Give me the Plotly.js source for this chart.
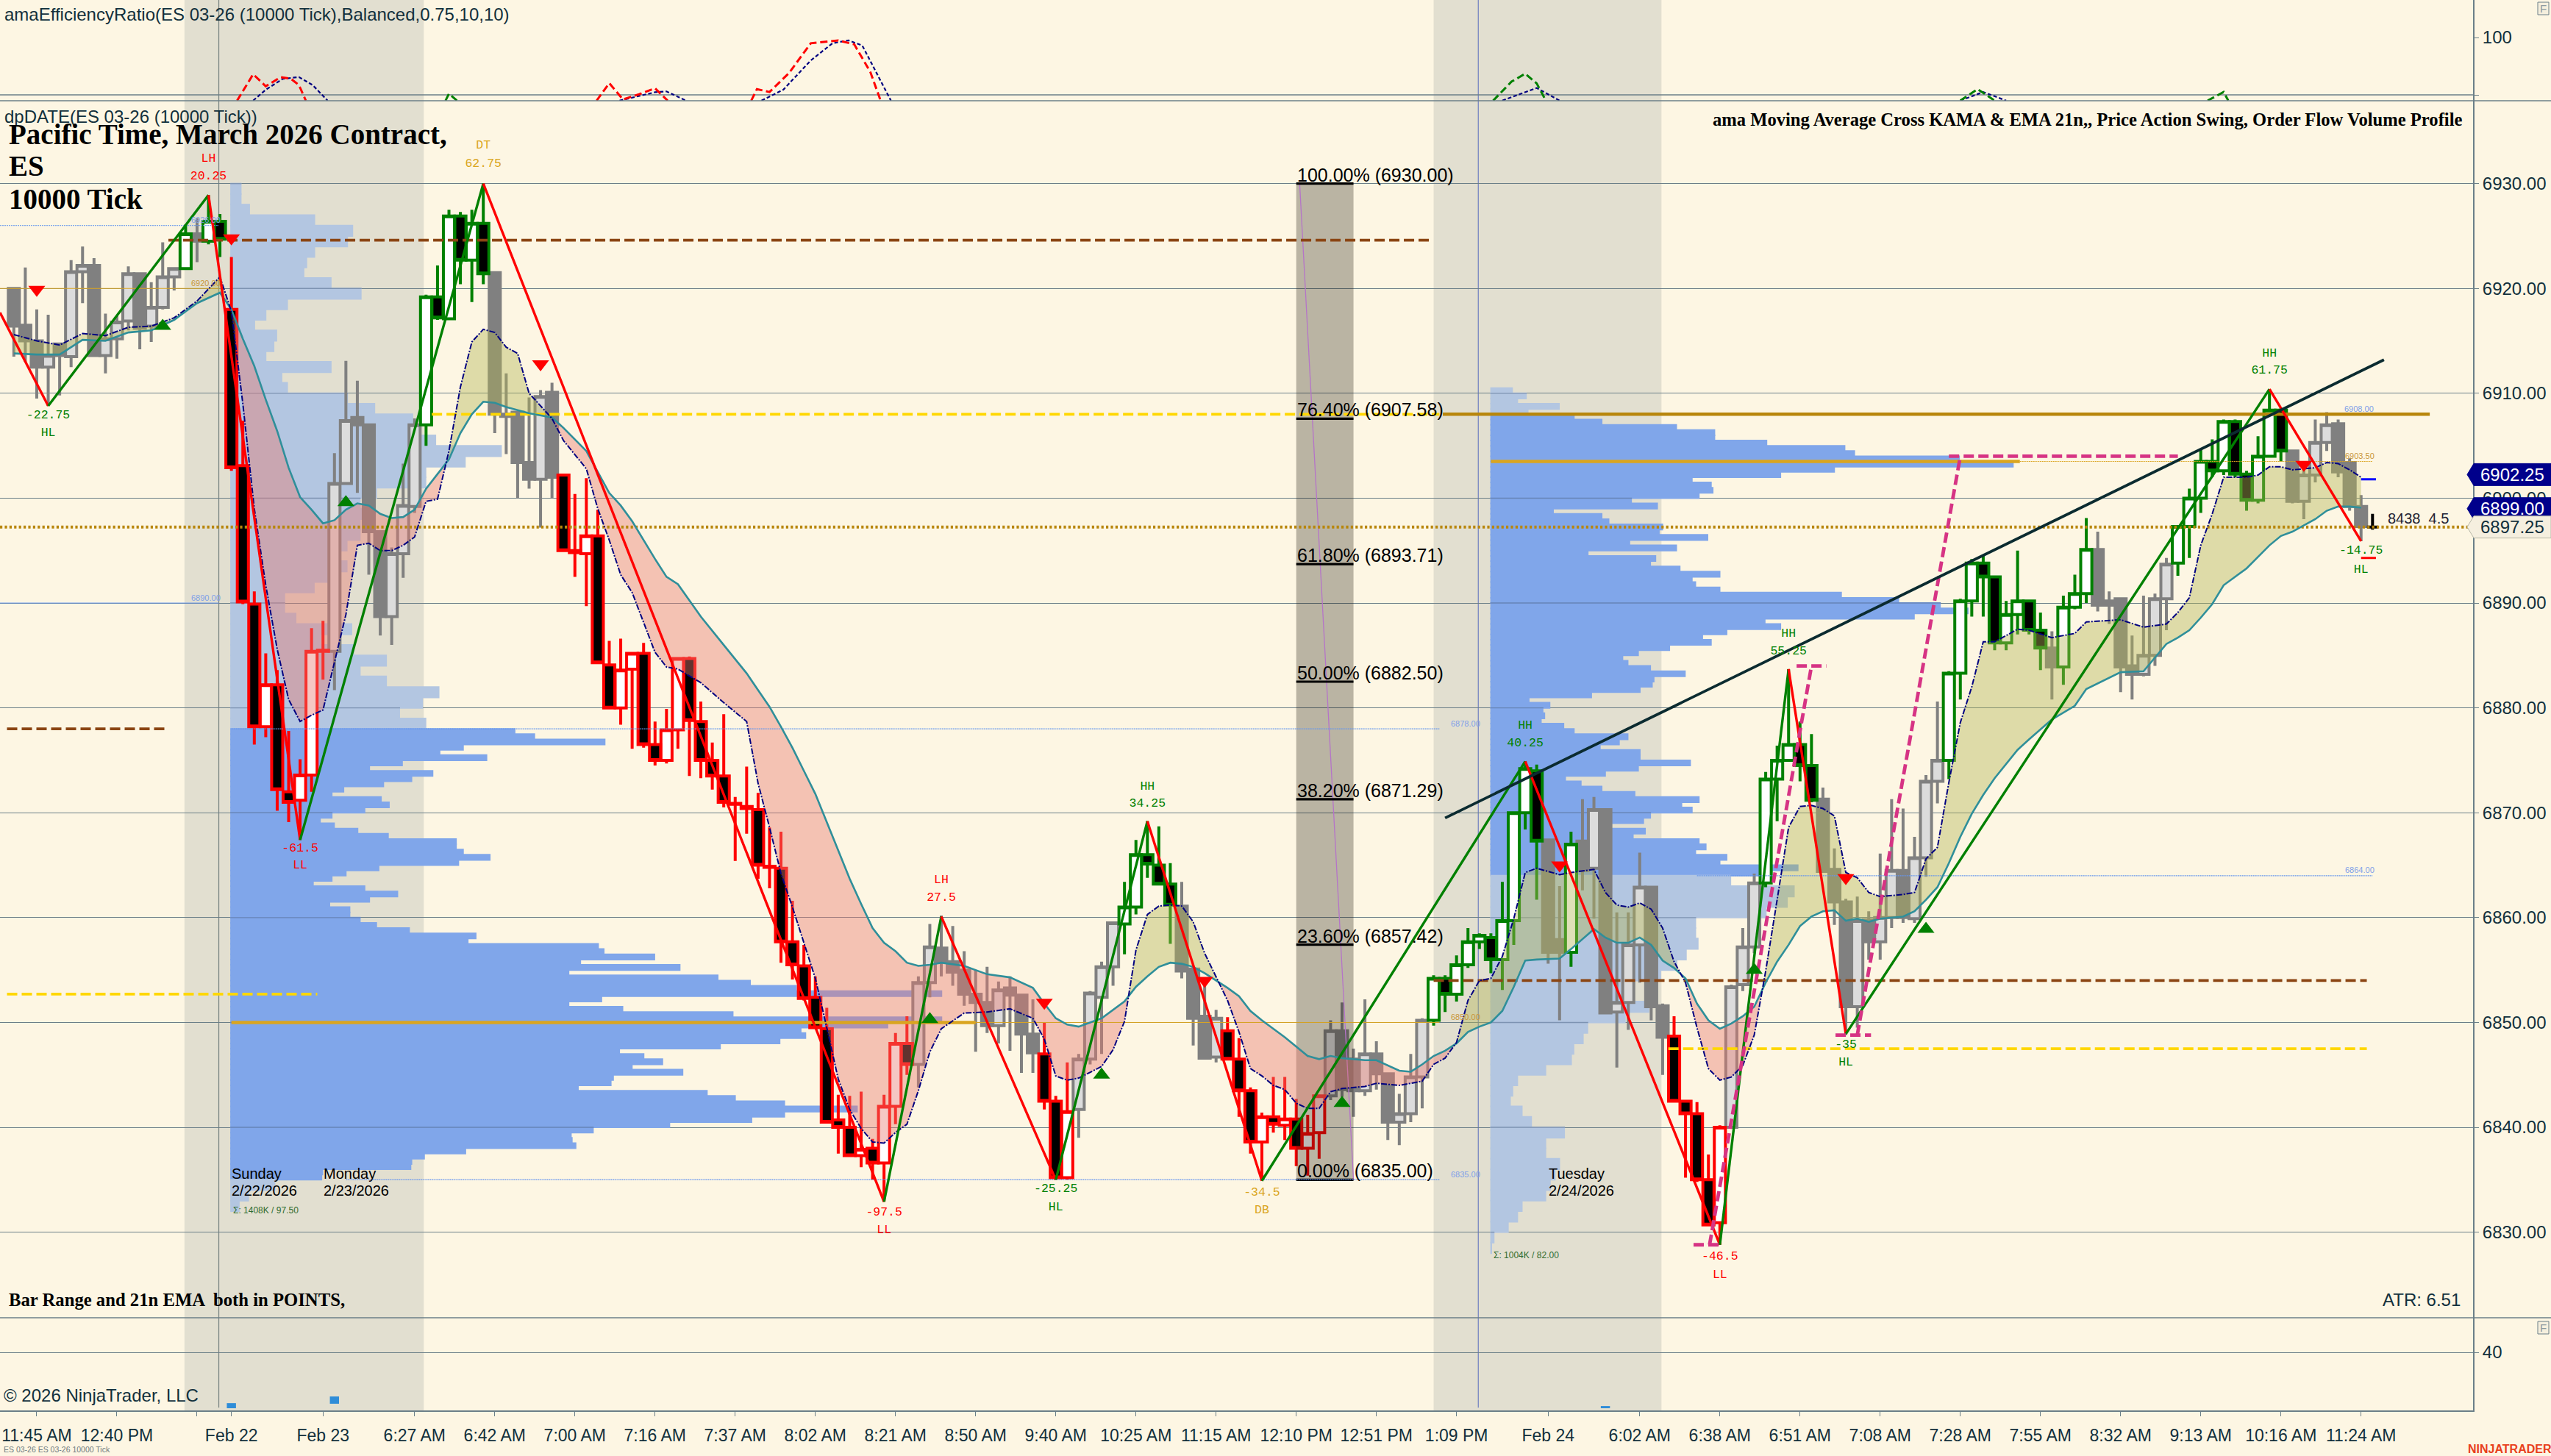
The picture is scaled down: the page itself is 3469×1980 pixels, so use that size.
<!DOCTYPE html>
<html><head><meta charset="utf-8"><script src="https://cdn.plot.ly/plotly-3.0.1.min.js"></script>
<style>html,body{margin:0;padding:0;background:#fdf6e3}#chart{width:3469px;height:1980px}</style></head>
<body><div id="chart"></div>
<script>
const firstBar=-2;
const barOpen=[6920,6916.5,6915,6912.5,6914.7,6913.5,6921.6,6922.2,6913.6,6915.2,
6916.9,6921.4,6916.4,6918.2,6921.1,6921.9,6925.2,6924.5,6926.4,6918,
6903.1,6889.9,6878.2,6882.2,6872,6871.2,6873.6,6885.4,6885.4,6901.4,
6907.7,6907,6896.8,6888.7,6894.7,6899.2,6907,6919.2,6917.1,6926.9,
6922.7,6926.2,6921.5,6908,6908.2,6903.4,6901.8,6910.1,6902.2,6895,
6894.7,6896.4,6884.1,6880,6883.7,6885.2,6876.5,6875,6877.9,6884.7,
6878.7,6875,6873.5,6870.9,6870.6,6870.3,6864.9,6864.7,6857.7,6855.4,
6852.4,6849.4,6840.7,6840,6837.3,6838,6836.6,6842,6848,6846,
6853.8,6857.1,6855.8,6855,6852.7,6851.9,6849.7,6853.3,6852.6,6848.9,
6847,6842.5,6835.2,6841.7,6846.5,6852.4,6855.3,6859.4,6861,6866,
6865,6863.2,6861.1,6855.1,6850.6,6846.7,6849.2,6846.5,6843.5,6838.6,
6841,6840.2,6840.8,6838,6839.5,6843,6849.2,6846.5,6843.5,6847,
6845.1,6840.5,6841.3,6844.8,6850.2,6854.2,6852.7,6855.5,6857.7,6858.1,
6856,6859.7,6870,6874,6867.4,6857.9,6856.7,6867.3,6864.7,6870.3,
6851,6851.9,6857.4,6862.9,6851.6,6848.7,6842.5,6841.3,6835,6830.9,
6840,6853.6,6857.2,6863.3,6873.2,6875,6876.5,6874.5,6871.3,6864.6,
6861.5,6851.5,6859.8,6857.7,6860,6864.5,6859.9,6865.7,6873,6875,
6883.3,6890.2,6893.8,6892.5,6886.2,6888.9,6890.2,6887.4,6885.7,6883.9,
6889.6,6890.9,6895.1,6890.2,6890.4,6884,6883.2,6885,6890.4,6893.8,
6897.3,6900,6903.5,6902.6,6907.3,6902.3,6899.8,6904,6908.4,6904.5,
6899.7,6902.2,6905.3,6907.1,6903.4,6899.2,6897.25];
const barHigh=[6920.1,6922,6918,6917.5,6914.8,6922.7,6924,6922.9,6917.6,6917.4,
6922.1,6921.5,6920.6,6924.4,6922,6926.1,6926.7,6928.9,6927.1,6923,
6907.4,6891.1,6885.2,6883.6,6877.8,6875.1,6887.6,6888.3,6904.3,6913.1,
6911.2,6907.1,6896.9,6895.3,6903.3,6907.6,6919.4,6922.2,6927.5,6927.3,
6927.5,6930,6921.6,6911.9,6908.3,6909.6,6910.3,6911,6902.2,6900.4,
6901.9,6898.9,6886.4,6886.6,6885.3,6886.2,6878.7,6879.9,6884.8,6884.9,
6880.6,6876.7,6879.4,6871.5,6874.4,6871.9,6868.6,6868.2,6861.6,6857.4,
6854.4,6851.4,6843.1,6843,6843.4,6838.9,6843.1,6849,6850.6,6854.4,
6859.4,6860.2,6859.2,6856.8,6855,6855.3,6853.9,6854.4,6852.7,6852.2,
6850,6843,6846.2,6847,6853,6855.8,6859.6,6863.4,6867.4,6869.2,
6868.7,6865.2,6863.4,6855.3,6854,6851.2,6850.5,6848.5,6843.8,6841.4,
6844.8,6844.8,6842.7,6841.2,6843.1,6850.2,6851.9,6847.5,6852.2,6848.2,
6845.2,6843.2,6847,6850.4,6854.5,6854.5,6856.4,6859,6858.5,6858.5,
6863.4,6870.1,6874.9,6874.6,6867.5,6863,6868.2,6871.3,6871.5,6870.4,
6860.5,6860.5,6866.2,6863,6851.8,6850.6,6842.6,6842.4,6837.4,6840.2,
6853.6,6859,6864.2,6873.9,6876.4,6883.7,6878.7,6877.5,6872.4,6866.6,
6861.8,6862,6860.6,6866.1,6871.3,6870.4,6867.7,6873.6,6880.6,6883.5,
6890.4,6894.2,6894.6,6892.6,6890.2,6895,6890.3,6889.1,6887.3,6890.7,
6892.7,6898.1,6896.8,6891.1,6890.5,6886.9,6890.7,6890.9,6894.3,6897.4,
6900.9,6904.7,6905.6,6907.5,6907.5,6902.6,6905.9,6910.4,6908.6,6904.6,
6903.5,6907.5,6908.2,6907.5,6903.8,6900.3,6898.5];
const barLow=[6913.5,6913,6909.5,6908.8,6909.8,6912.5,6918.6,6913.6,6911.9,6913.3,
6916,6914.2,6914.9,6918,6919.8,6921.9,6922.5,6924.2,6923,6902.6,
6889.9,6876.5,6877.2,6870.2,6869.1,6867.4,6872,6882.7,6881.7,6901.3,
6900.5,6892.7,6886.9,6886,6892.4,6898.6,6905,6917,6917,6920.4,
6918.7,6920.4,6906.2,6904.2,6900,6900.9,6897.2,6900,6894.9,6892.5,
6889.7,6884.3,6880,6878.4,6876.1,6876.2,6874.5,6874.7,6876.1,6873.5,
6873.3,6872.2,6870.5,6865.4,6868,6863.7,6862.8,6855.7,6854.1,6852.1,
6849.4,6840.5,6837.5,6837.2,6836.2,6835,6832.9,6840.3,6845,6843.8,
6852.4,6854.4,6853.5,6851.6,6847.2,6849,6848,6847.3,6845.2,6845.2,
6841.7,6835,6835,6839,6846,6847,6853.5,6856.5,6860.3,6863.8,
6863.1,6857.5,6854.2,6847.8,6846.5,6846.2,6846.4,6841,6837.5,6834.9,
6839.5,6838.8,6836.3,6835.4,6837,6842.6,6842.9,6841,6843,6843.6,
6838.8,6838.3,6840.5,6841.8,6849.7,6851,6852,6855.2,6857,6854.7,
6853.1,6857.4,6868.4,6861.7,6855.6,6850.2,6855.3,6862.6,6859.9,6850.9,
6845.7,6849.3,6853.8,6850.2,6845,6842.4,6835.2,6834.8,6830.7,6828.8,
6840,6853,6856.6,6862.9,6869.2,6875,6873,6871,6864.3,6859.3,
6848.8,6849.5,6856,6856,6859,6859.5,6859.5,6863.9,6870.9,6873.2,
6880.8,6888.7,6888.7,6885.5,6885.5,6887,6887,6883.6,6880.8,6882.2,
6889.4,6890,6889.2,6888,6881.5,6880.8,6883,6884,6887.4,6892.6,
6894.3,6898.6,6902,6902.2,6902,6898.8,6899.5,6904,6903.5,6899.5,
6898,6901.5,6904.5,6902,6898.8,6895.9,6897];
const barClose=[6916.4,6915,6912.5,6913.6,6913.6,6921.6,6922.2,6913.6,6915.2,6916.8,
6921.4,6916.2,6918.2,6921.1,6921.9,6925.2,6924.5,6926.4,6924.7,6902.9,
6890.1,6878.2,6882.2,6872.2,6871,6873.6,6885.4,6885.5,6901.4,6907.4,
6907,6896.8,6888.7,6894.7,6899.3,6907,6919.2,6917.2,6926.9,6922.7,
6926.2,6921.4,6908,6907.8,6903.4,6901.8,6909.7,6902,6895,6894.8,
6896.4,6884.3,6880,6883.6,6885.2,6876.5,6875,6877.9,6884.7,6878.8,
6875,6873.5,6871,6870.8,6870.4,6865,6864.8,6857.7,6855.5,6852.3,
6849.5,6840.5,6840,6837.3,6837.9,6836.6,6842,6848,6846,6853.8,
6857.2,6855.8,6854.8,6852.7,6851.9,6849.7,6853.1,6852.6,6848.9,6847.1,
6842.5,6835.2,6841.5,6846.5,6852.8,6855.3,6859.5,6861,6866,6865.1,
6863.2,6861.2,6854.9,6850.4,6846.6,6850.4,6846.5,6843.5,6838.6,6841,
6840.3,6840.8,6838,6839.4,6843,6849.2,6843.6,6843.5,6847,6845.1,
6840.5,6841.3,6844.8,6850.2,6854.2,6852.7,6855.5,6857.7,6858.3,6856,
6859.7,6870,6874.2,6867.3,6856.7,6856.7,6867,6864.5,6870.3,6850.9,
6851.9,6857.4,6862.9,6851.5,6848.6,6842.5,6841.3,6835,6830.7,6840,
6853.4,6857.2,6863.3,6873.2,6875,6876.5,6874.5,6871.2,6864.4,6861.5,
6851.5,6859.7,6857.7,6860,6864.5,6860,6865.7,6873,6875,6883.3,
6890.2,6893.8,6892.5,6886.2,6888.9,6890.2,6887.4,6885.7,6883.9,6889.6,
6890.9,6895.1,6889.8,6889.8,6883.9,6883.2,6885,6890.4,6893.7,6897.3,
6900,6903.5,6902.6,6907.3,6902.3,6899.8,6904,6908.4,6904.5,6899.7,
6902.2,6905.3,6907,6902.5,6899.2,6897.3,6897.25];
const barStyle="DDDLDLLDLL"+"LDLLLUDUNR"+"RRPRRPPPLL"+"DDDLLLUNUN"+"UNDDDDLDRR"+"PRRPPRRPPR"+"RRRRRRRRRR"+"RRRRPRPPRL"+"LDDDDDLDDD"+"RRPLLLLUUN"+"NNDDDLRRRP"+"RPRPPLDDLD"+"DLLLUNUUUN"+"UUUNDDUDLD"+"LLLDDRRRRP"+"LLLUUUNNDD"+"DLDLLDLLLU"+"UUNNUUNNDU"+"UUDDDDLLLU"+"UUNUNNUUND"+"LLLDDDK";

const maBar=[-2,0,2,4,6,8,10,12,14,16,17,18,19,20,21,22,23,24,25,26,27,28,29,30,31,32,33,34,35,36,37,38,39,40,41,42,43,45,46,48,49,50,51,52,54,55,56,58,60,62,63,64,65,66,67,68,69,70,71,72,73,74,75,76,77,78,79,81,83,85,87,88,89,90,91,93,94,95,96,97,98,99,100,101,102,103,104,105,106,107,108,109,110,111,112,113,114,116,117,119,120,121,122,123,124,125,126,127,128,129,130,131,133,134,136,137,138,139,140,141,142,143,144,145,146,147,148,149,150,151,152,153,154,155,156,157,158,159,160,161,163,164,165,166,167,168,169,170,171,173,174,176,178,179,182,184,186,187,188,189,190,191,193,194,195,196,197,199,200,201,202,203];
const kama=[6915.6,6915,6914.6,6915.7,6915.5,6916.3,6916.4,6917.2,6918.8,6921.1,6917.8,6909,6899,6891.7,6885.6,6880.8,6878.7,6879.3,6879.8,6884.4,6888.9,6895.5,6895.7,6895,6895,6895.5,6896.3,6899.7,6899.9,6904.5,6910.6,6914.9,6916.1,6915.8,6914.4,6913.8,6910,6907.6,6905.5,6902.8,6899,6896,6892.7,6891,6885.3,6883.9,6883.7,6882.4,6880.5,6878.7,6872.8,6868.6,6864.2,6861,6857.6,6854.2,6849.5,6844.6,6841.7,6839.9,6838.6,6838.5,6839.5,6840.3,6843.5,6847.2,6849.4,6850.9,6851,6851.3,6850.4,6848.4,6844.9,6844.5,6844.7,6845.8,6847.4,6850.1,6856.9,6860.3,6861.1,6861.2,6861.1,6859.6,6856.6,6854.4,6852.1,6849.1,6845.6,6844.9,6844,6843.6,6842.3,6841.8,6841.8,6843.4,6843.7,6843.9,6844.2,6844,6844.2,6844.4,6846,6846.6,6848.1,6852.1,6854,6854.2,6856.3,6859.9,6864.3,6864.7,6864.1,6864.3,6864.6,6862.4,6861.2,6861,6861.4,6860.8,6859,6855.8,6853.8,6849.5,6845.6,6844.5,6844.8,6845.9,6848.8,6854.9,6861.7,6868.6,6870.6,6870.7,6870.4,6869.7,6864.3,6863.8,6862.4,6862,6862.2,6862.4,6865.6,6866.7,6872.9,6878.6,6882,6886.3,6886.3,6887.5,6887.4,6886.7,6887.1,6888.2,6888.4,6887.7,6888,6889.1,6890.5,6895.5,6898.5,6902,6902,6902.2,6903,6903,6902.7,6902.9,6903.4,6903.3,6902.7,6902];
const ema=[6913.8,6913.7,6913.7,6915.1,6915,6915.8,6916,6917,6918.6,6919.6,6918,6915.2,6912.6,6909.4,6906.4,6902.9,6900.1,6898.9,6897.6,6897.9,6898.9,6899.5,6899.3,6898.5,6898.1,6898.2,6898.9,6900.9,6902.3,6903.7,6906.2,6908,6909.2,6909.1,6908.7,6908.4,6908.1,6907.7,6906.7,6904.5,6902.5,6900.5,6899.3,6897.8,6894.2,6892.5,6891.8,6888.7,6886,6883.3,6881.7,6880.1,6878.2,6876.2,6874,6871.8,6869.1,6866.4,6863.7,6861.3,6859,6857.6,6856.8,6855.7,6855.4,6855.5,6855.7,6855.4,6854.6,6854.3,6853.3,6851.8,6850.4,6849.8,6849.6,6850.4,6851.2,6852,6853.4,6854.4,6855.3,6855.7,6855.6,6855.3,6854.7,6854,6853.3,6852.5,6851.1,6850.2,6849.4,6848.6,6847.7,6846.8,6846.5,6846.8,6846.6,6846.4,6846.4,6845.4,6845.3,6846,6846.8,6847.3,6848,6849.1,6849.6,6850,6851.1,6853.4,6855.9,6856,6856.1,6857,6858.9,6858.1,6857.6,6857.6,6858.1,6857.4,6855.9,6855.2,6854.2,6851.8,6850.2,6849.4,6849.9,6850.6,6851.5,6853.8,6855.8,6857.4,6859.2,6860.1,6860.6,6860.7,6859.7,6859.9,6859.6,6859.9,6860.1,6860.6,6861.7,6862.9,6865.2,6867.7,6869.9,6871.7,6873.3,6876,6877,6878.9,6880.2,6881.8,6883.4,6883.5,6886.1,6886.7,6887.4,6888.6,6889.9,6891.7,6893.3,6894.4,6895.5,6896.4,6896.8,6898,6898.8,6899.2,6899.2,6899.1];

const swingBar=[-3.21,1,15,23,39,74,79,89,97,107,130,147,153,158,195,203];
const swingPrice=[6917.7,6908.8,6928.9,6867.4,6930,6832.9,6860.1,6835,6869.2,6834.9,6874.9,6828.8,6883.7,6848.9,6910.4,6895.9];
const swingLabelBar=[15,15,39,39,1,1,23,23,74,74,79,79,89,89,97,97,107,107,130,130,153,153,147,147,158,158,195,195,203,203];
const swingLabelPrice=[6932.4,6930.7,6933.6,6931.9,6907.9,6906.2,6866.6,6865,6831.9,6830.2,6863.6,6861.9,6834.1,6832.4,6872.5,6870.9,6833.8,6832.1,6878.3,6876.6,6887.1,6885.4,6827.7,6825.9,6847.9,6846.2,6913.8,6912.2,6895,6893.2];
const swingLabelText=["LH","20.25","DT","62.75","-22.75","HL","-61.5","LL","-97.5","LL","LH","27.5","-25.25","HL","HH","34.25","-34.5","DB","HH","40.25","HH","55.25","-46.5","LL","-35","HL","HH","61.75","-14.75","HL"];
const swingLabelColor=["#ff0000","#ff0000","#daa520","#daa520","#008000","#008000","#ff0000","#ff0000","#ff0000","#ff0000","#ff0000","#ff0000","#008000","#008000","#008000","#008000","#daa520","#daa520","#008000","#008000","#008000","#008000","#ff0000","#ff0000","#008000","#008000","#008000","#008000","#008000","#008000"];

const sellBar=[0,17,44,88,102,133,158,198];
const sellPrice=[6919.9,6924.8,6912.8,6851.9,6854,6865,6863.8,6903.2];
const buyBar=[11,27,78,93,114,150,165];
const buyPrice=[6916.4,6899.6,6850.3,6845,6842.3,6855,6858.9];

const fibLevel=[6930,6907.58,6893.71,6882.5,6871.29,6857.42,6835];
const fibText=["100.00% (6930.00)","76.40% (6907.58)","61.80% (6893.71)","50.00% (6882.50)","38.20% (6871.29)","23.60% (6857.42)","0.00% (6835.00)"];
const fibFrom=110, fibTo=115;

const vp1Upper=[24,24,42,181,262,251,181,164,158,216,280,123,77,53,100,94,77,216,111,123,251,309,390,407,439,579,502,418,418,313,278,292,278,278,250,236,250,236,180,117,117,141,260,194,264,334,278,334,446,411,362,418];
const vp1Value=[608,650,800,498,448,548,368,298,433,388,328,243,218,323,340,288,218,193,223,273,338,483,483,498,555,488,318,248,218,178,288,358,298,213,256,256,278,313,383,525,508,786,798,906,748,960,723,1041,1110,1208,1518,793,723,838,1073,1518,1403,1218,1228,1173,1046,831,883,923,858,966,818,813,743,1018,1078,1183,1338,1183,1113,938,775,728,730,738,503,415,388,386,198,196];
const vp1Lower=[96,40,20];
const vp2Upper=[65,105,80,200,110];
const vp2Value=[243,323,538,648,648,798,1023,1051,1353,1508,993,838,583,638,643,603,408,483,183,323,343,498,488,628,403,538,283,478,463,548,663,583,593,663,1013,1178,1298,1378,1223,793,838,683,613,638,518,428,383,398,463,563,473,468,433,293,113,173,153,158,148,213,243,398,373,318,433,433,578,428,333,218,263,323,418,603,553,583,463,443,333,448,413,603,623,593,683,663,888,813];
const vp2Lower=[694,877,857,796,593,593,600,566,539,492,377,390,458,390,282,269,242,235,161,80,66,59,93,120,215,161,161,201,188,174,161,93,80,53,12,5];

const levelPrice=[6924.6,6878,6854,6908,6852.7,6847.5,6908,6903.5,6903.5,6850,6850,6897.25,6926,6920,6890,6878,6835,6864,6901.8,6894.3];
const levelFrom=[11.5,-2.6,122,34.5,-2.6,142.5,122.8,127,173.2,17,82,-3.21,-3.21,-3.21,-3.21,17,27,145,203,203];
const levelTo=[121.6,11.4,203.5,122.5,24.5,203.5,209,173.2,204,82,122.5,212.78,15.9,15.9,15.9,122.5,122.5,204,204.3,204.3];
const levelColor=["#8b4513","#8b4513","#8b4513","#ffd700","#ffd700","#ffd700","#b8860b","#daa520","#daa520","#daa520","#daa520","#b8860b","#6495ed","#daa520","#6495ed","#6495ed","#6495ed","#6495ed","#0000ff","#ff0000"];
const levelWidth=[3.8,3.8,3.8,3.8,3.8,3.8,4.5,4.5,1,4.5,1,4,1,1,1,1.3,1.3,1.3,3,3];
const levelDash=["14px,6px","14px,6px","14px,6px","14px,6px","14px,6px","14px,6px","solid","solid","2px,1px","solid","solid","3.2px,3.2px","2px,1px","solid","solid","2px,1px","2px,1px","2px,1px","solid","solid"];

const trendBar=[123,205], trendPrice=[6869.5,6913.2];
const pinkBar=[144.7,147,null,146.1,155,null,153.7,156.3,null,157.1,160.2,null,159,168,null,167,187];
const pinkPrice=[6828.8,6828.8,null,6828.8,6884,null,6884,6884,null,6848.8,6848.8,null,6848.8,6904,null,6904,6904];

const erRedBar=[17.5,18.9,20,21.3,22.2,22.9,23.5,null,48.9,50,51.2,52.6,54,55.1,null,62.4,62.9,64,65.7,67.6,68.5,70,71.4,72.8,73.7];
const erRed=[-10,36,15,31,28,17,-10,null,-10,20.5,-8,1,11.5,-10,null,-10,10,5,38,90,92,95,88,40,-10];
const erNavyBar=[18.9,20,21.5,22.9,24.1,25.4,null,50.9,52,54,55,55.9,56.7,null,63.3,65.2,67.6,69.5,70.9,72.1,74.6,null,128,131,133,null,168,170,172];
const erNavy=[-10,9,28,31,17,-10,null,-10,-5,4.6,6,-2,-10,null,-10,9,60,90,95,86,-10,null,-10,12,-10,null,-10,5,-10];
const erGreenBar=[35.7,36,36.7,null,127.2,128.8,130,131,131.8,null,168,169.5,171,null,189.6,191,191.4];
const erGreen=[-10,2,-10,null,-10,23,37,20,-10,null,-10,10,-10,null,-10,5,-10];

const lowerBar=[17,26,137], lowerBase=[1.5,4.6,1.5], lowerHeight=[3.5,5,1.5];

const xTickBar=[0,7,14,17,25,33,40,47,54,61,68,75,82,89,96,103,110,117,124,132,140,147,154,161,168,175,182,189,196,203];
const xTickText=["11:45 AM","12:40 PM","","Feb 22","Feb 23","6:27 AM","6:42 AM","7:00 AM","7:16 AM","7:37 AM","8:02 AM","8:21 AM","8:50 AM","9:40 AM","10:25 AM","11:15 AM","12:10 PM","12:51 PM","1:09 PM","Feb 24","6:02 AM","6:38 AM","6:51 AM","7:08 AM","7:28 AM","7:55 AM","8:32 AM","9:13 AM","10:16 AM","11:24 AM"];

const INK="#12303c", SANS="Liberation Sans", SERIF="Liberation Serif", MONO="Liberation Mono";
const W=3363, H=1918, BG="#fdf6e3";
const px=v=>v/W, py=v=>(H-v)/H;
const xRange=[-3.21,212.78];
const traces=[];

function profile(vals,start,step,base,scale,color){
  const rows=vals.map((_,i)=>start-i*step);
  traces.push({type:'bar',orientation:'h',xaxis:'x',yaxis:'y',base:base,y:rows,x:vals.map(v=>v*scale),width:step+0.14,
    marker:{color:color,line:{width:0}},hoverinfo:'skip'});
  const gy=[],gx=[];
  vals.forEach((v,i)=>{ const top=rows[i]+step/2, bottom=rows[i]-step/2;
    const g=Math.round(rows[i]/10)*10; if(g<=top&&g>bottom){gy.push(g);gx.push(v*scale);} });
  traces.push({type:'bar',orientation:'h',xaxis:'x',yaxis:'y',base:base,y:gy,x:gx,width:0.1,
    marker:{color:'rgba(80,105,140,.55)',line:{width:0}},hoverinfo:'skip'});
}
const DARK="#80a6ea", LIGHT="#b3c6e1";
const K1=0.04096, K2=0.03031;
profile(vp1Upper,6929.5,1,16.9,K1,LIGHT);
profile(vp1Value,6877.75,.5,16.9,K1,DARK);
profile(vp1Lower,6834.5,1,16.9,K1,LIGHT);
profile(vp2Upper,6910.25,.5,126.95,K2,LIGHT);
profile(vp2Value,6907.75,.5,126.95,K2,DARK);
profile(vp2Lower,6863.5,1,126.95,K2,LIGHT);

const styles={
 L:{line:"#808080",fill:"#dcdcdc"},D:{line:"#808080",fill:"#808080"},
 U:{line:"#008000",fill:"#ffffff"},N:{line:"#008000",fill:"#000000"},
 P:{line:"#ff0000",fill:"#ffffff"},R:{line:"#ff0000",fill:"#000000"},
 K:{line:"#000000",fill:"#000000"}};
for(const key of "LDUNPRK"){
  const idx=[...barStyle].map((c,i)=>c===key?i:-1).filter(i=>i>=0);
  const s=styles[key], side={line:{color:s.line,width:4},fillcolor:s.fill};
  traces.push({type:'candlestick',xaxis:'x',yaxis:'y',x:idx.map(i=>i+firstBar),
    open:idx.map(i=>barOpen[i]),high:idx.map(i=>barHigh[i]),low:idx.map(i=>barLow[i]),close:idx.map(i=>barClose[i]),
    increasing:side,decreasing:side,whiskerwidth:0,hoverinfo:'skip'});
}

traces.push({type:'scatter',mode:'none',x:[fibFrom,fibTo,fibTo,fibFrom,fibFrom],y:[fibLevel[0],fibLevel[0],fibLevel[6],fibLevel[6],fibLevel[0]],
  fill:'toself',fillcolor:'rgba(33,27,17,.3)',hoverinfo:'skip'});
traces.push({type:'scatter',mode:'lines',x:[110.3,fibTo],y:[fibLevel[0],fibLevel[6]],line:{color:'#b574c8',width:1.3},hoverinfo:'skip'});
fibLevel.forEach(v=>traces.push({type:'scatter',mode:'lines',x:[fibFrom,fibTo],y:[v,v],line:{color:'#000',width:3.2},hoverinfo:'skip'}));

(function(){
  let run=[], side=null;
  const flush=()=>{ if(run.length>1){
      traces.push({type:'scatter',mode:'none',x:run.map(p=>p[0]).concat(run.map(p=>p[0]).reverse()),
        y:run.map(p=>p[1]).concat(run.map(p=>p[2]).reverse()),fill:'toself',
        fillcolor:side>0?'rgba(178,181,85,.42)':'rgba(230,121,113,.42)',hoverinfo:'skip'});}
  };
  for(let i=0;i<maBar.length;i++){
    const s=Math.sign(kama[i]-ema[i])||side||1;
    if(side!==null&&s!==side){
      const d0=kama[i-1]-ema[i-1],d1=kama[i]-ema[i],t=d0/(d0-d1);
      const cx=maBar[i-1]+t*(maBar[i]-maBar[i-1]),cy=ema[i-1]+t*(ema[i]-ema[i-1]);
      run.push([cx,cy,cy]);flush();run=[[cx,cy,cy]];
    }
    side=s;run.push([maBar[i],kama[i],ema[i]]);
  }
  flush();
})();

levelPrice.forEach((v,i)=>traces.push({type:'scatter',mode:'lines',x:[levelFrom[i],levelTo[i]],y:[v,v],
  line:{color:levelColor[i],width:levelWidth[i],dash:levelDash[i]},hoverinfo:'skip'}));

traces.push({type:'scatter',mode:'lines',x:maBar,y:ema,line:{color:'#2f8f9a',width:2.6},hoverinfo:'skip'});
traces.push({type:'scatter',mode:'lines',x:maBar,y:kama,line:{color:'#000080',width:2,dash:'8px,2px,2px,2px'},hoverinfo:'skip'});

for(let i=0;i<swingBar.length-1;i++){
  traces.push({type:'scatter',mode:'lines',x:[swingBar[i],swingBar[i+1]],y:[swingPrice[i],swingPrice[i+1]],
    line:{color:i%2===0?'#ff0000':'#008000',width:3.4},hoverinfo:'skip'});
}
traces.push({type:'scatter',mode:'lines',x:pinkBar,y:pinkPrice,connectgaps:false,line:{color:'#d63384',width:4.8,dash:'14px,6px'},hoverinfo:'skip'});
traces.push({type:'scatter',mode:'lines',x:trendBar,y:trendPrice,line:{color:'#0b2b30',width:3.8},hoverinfo:'skip'});
traces.push({type:'scatter',mode:'markers',x:sellBar,y:sellPrice,marker:{symbol:'triangle-down',size:20,color:'#ff0000',line:{width:0}},hoverinfo:'skip'});
traces.push({type:'scatter',mode:'markers',x:buyBar,y:buyPrice,marker:{symbol:'triangle-up',size:20,color:'#008000',line:{width:0}},hoverinfo:'skip'});
traces.push({type:'scatter',mode:'text',x:swingLabelBar,y:swingLabelPrice,text:swingLabelText,textposition:'middle center',
  textfont:{family:MONO,size:16.5,color:swingLabelColor},hoverinfo:'skip'});

traces.push({type:'scatter',mode:'lines',xaxis:'x',yaxis:'y2',x:erNavyBar,y:erNavy,line:{color:'#000080',width:2.2,dash:'5px,3px'},hoverinfo:'skip'});
traces.push({type:'scatter',mode:'lines',xaxis:'x',yaxis:'y2',x:erRedBar,y:erRed,line:{color:'#ff0000',width:3,dash:'10px,5px'},hoverinfo:'skip'});
traces.push({type:'scatter',mode:'lines',xaxis:'x',yaxis:'y2',x:erGreenBar,y:erGreen,line:{color:'#008000',width:3,dash:'10px,5px'},hoverinfo:'skip'});
traces.push({type:'bar',xaxis:'x',yaxis:'y3',x:lowerBar,base:lowerBase,y:lowerHeight,width:.8,marker:{color:'#2f8dd8',line:{width:0}},hoverinfo:'skip'});

const ann=[];
function note(text,x,y,size,color,family,anchor){
  ann.push({xref:'paper',yref:'paper',x:px(x),y:py(y),text:text,showarrow:false,xanchor:anchor||'left',yanchor:'middle',
    font:{size:size,color:color||INK,family:family||SANS},borderpad:0});
}
note("amaEfficiencyRatio(ES 03-26 (10000 Tick),Balanced,0.75,10,10)",5,20,24);
note("dpDATE(ES 03-26 (10000 Tick))",5,158,24);
note("<b>Pacific Time, March 2026 Contract,</b>",11,182,39,'#000',SERIF);
note("<b>ES</b>",11,225,39,'#000',SERIF);
note("<b>10000 Tick</b>",11,270,39,'#000',SERIF);
note("<b>ama Moving Average Cross KAMA &amp; EMA 21n,, Price Action Swing, Order Flow Volume Profile</b>",3349,163,24.6,'#000',SERIF,'right');
note("<b>Bar Range and 21n EMA  both in POINTS,</b>",11,1767,24.7,'#000',SERIF);
note("ATR: 6.51",3347,1767,24,INK,SANS,'right');
note("© 2026 NinjaTrader, LLC",4,1897,24);
note("ES 03-26 ES 03-26 10000 Tick",4,1971,10.5,'#6f7b80');
note("<b>NINJATRADER</b>",3355,1970,16,'#e8401c');
note("Sunday",314,1596,20,'#000');note("2/22/2026",314,1619,20,'#000');
note("Monday",439,1596,20,'#000');note("2/23/2026",439,1619,20,'#000');
note("Tuesday",2105,1596,20,'#000');note("2/24/2026",2105,1619,20,'#000');
note("Σ: 1408K / 97.50",316,1646,12,'#2e6b2e');
note("Σ: 1004K / 82.00",2030,1707,12,'#2e6b2e');
note("6926.00",259,299,11,'#7f9fe8');note("6920.00",259,385,11,'#c9973b');note("6890.00",259,813,11,'#7f9fe8');
note("6878.00",1972,984,11,'#7f9fe8');note("6850.00",1972,1383,11,'#c9973b');note("6835.00",1972,1597,11,'#7f9fe8');
note("6908.00",3187,556,11,'#7f9fe8');note("6903.50",3188,620,11,'#c9973b');note("6864.00",3188,1183,11,'#7f9fe8');
note("8438  4.5",3246,705,20,'#223');
fibLevel.forEach((v,i)=>ann.push({xref:'x',yref:'y',x:fibFrom,y:v,yshift:12,text:fibText[i],showarrow:false,xanchor:'left',yanchor:'middle',
  font:{size:25,family:SANS,color:'#000'},borderpad:0}));
note("F",3458.5,11.5,15,'#8c9aa0',SANS,'center');
note("F",3458.5,1805.5,15,'#8c9aa0',SANS,'center');

const shapes=[];
[[12.9,33.8],[122,141.9]].forEach(r=>shapes.push({type:'rect',layer:'below',xref:'x',yref:'paper',x0:r[0],x1:r[1],y0:0,y1:1,fillcolor:'#e2dfd0',line:{width:0}}));
[[15.9,'#77827f'],[125.9,'#6f7fc0']].forEach(v=>shapes.push({type:'line',layer:'below',xref:'x',yref:'paper',x0:v[0],x1:v[0],y0:0.002,y1:1,line:{color:v[1],width:1.2}}));
const border='#6b7f88';
[137,1792].forEach(y=>shapes.push({type:'line',layer:'above',xref:'paper',yref:'paper',x0:0,x1:3469/W,y0:py(y),y1:py(y),line:{color:border,width:1.6}}));
shapes.push({type:'line',layer:'below',xref:'paper',yref:'y2',x0:0,x1:1,y0:0,y1:0,line:{color:border,width:1.4}});
[[3,20],[1797,1814]].forEach(b=>shapes.push({type:'rect',layer:'above',xref:'paper',yref:'paper',x0:px(3451),x1:px(3466),y0:py(b[1]),y1:py(b[0]),fillcolor:'#f5efdd',line:{color:border,width:1}}));
const tagPrice=[6902.25,6899,6897.25], tagFill=['#00008b','#00008b','#f5efdf'], tagInk=['#fff','#fff',INK], tagLine=['#00008b','#00008b','#b8b8a8'];
tagPrice.forEach((p,i)=>{
  const hh=1.05, a=px(3355), b=px(3364), c=3469/W;
  shapes.push({type:'path',layer:'above',xref:'paper',yref:'y',path:`M ${a},${p} L ${b},${p+hh} L ${c},${p+hh} L ${c},${p-hh} L ${b},${p-hh} Z`,fillcolor:tagFill[i],line:{color:tagLine[i],width:1}});
  ann.push({xref:'paper',yref:'y',x:px(3372),y:p,text:p.toFixed(2),showarrow:false,xanchor:'left',yanchor:'middle',font:{size:24,family:SANS,color:tagInk[i]},borderpad:0});
});

const tick={family:SANS,size:24,color:INK};
const layout={width:3469,height:1980,autosize:false,margin:{l:0,r:106,t:0,b:62,pad:0,autoexpand:false},
 paper_bgcolor:BG,plot_bgcolor:BG,showlegend:false,hovermode:false,barmode:'overlay',boxgap:0.03,boxgroupgap:0,
 xaxis:{domain:[0,1],range:xRange,anchor:'y3',tickmode:'array',tickvals:xTickBar,ticktext:xTickText,ticks:'outside',ticklen:6,tickwidth:1.3,tickcolor:border,
   showline:true,linecolor:border,linewidth:2,showgrid:false,zeroline:false,tickfont:{family:SANS,size:23,color:INK},tickangle:0,rangeslider:{visible:false},ticklabelstandoff:6,automargin:false},
 yaxis:{domain:[(H-1792)/H,(H-137)/H],range:[6821.84,6937.9],side:'right',anchor:'x',tick0:6830,dtick:10,tickformat:'.2f',ticks:'outside',ticklen:6,tickwidth:1.3,tickcolor:border,
   showline:true,linecolor:border,linewidth:2,showgrid:true,gridcolor:border,gridwidth:1.4,zeroline:false,tickfont:tick},
 yaxis2:{domain:[(H-137)/H,1],range:[-10.26,165.4],side:'right',anchor:'x',tickmode:'array',tickvals:[100,0],ticktext:['100',''],ticks:'outside',ticklen:6,tickwidth:1.3,tickcolor:border,
   showline:true,linecolor:border,linewidth:2,showgrid:false,zeroline:false,tickfont:tick},
 yaxis3:{domain:[0,(H-1792)/H],range:[0,63.8],side:'right',anchor:'x',tickmode:'array',tickvals:[40],ticktext:['40'],ticks:'outside',ticklen:6,tickwidth:1.3,tickcolor:border,
   showline:true,linecolor:border,linewidth:2,showgrid:true,gridcolor:border,gridwidth:1.4,zeroline:false,tickfont:tick},
 annotations:ann,shapes:shapes};
traces.forEach(t=>{t.showlegend=false;});
Plotly.newPlot('chart',traces,layout,{displayModeBar:false,responsive:false,scrollZoom:false});
</script></body></html>
